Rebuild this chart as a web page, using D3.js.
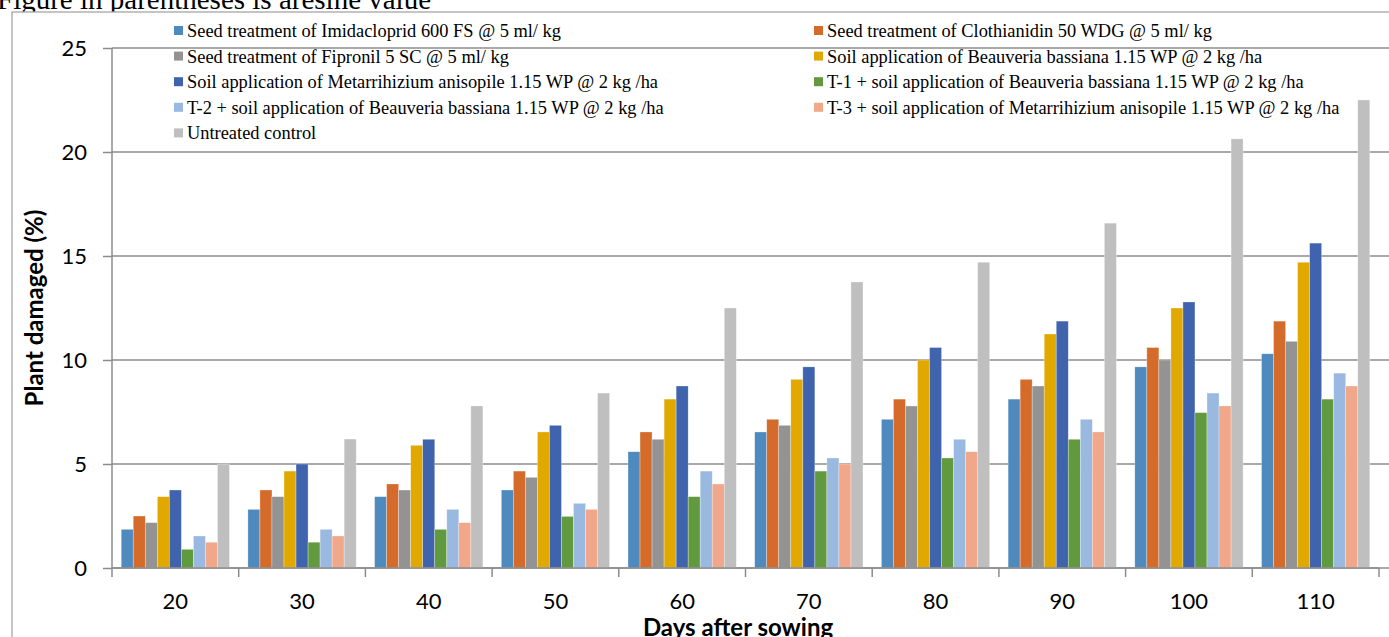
<!DOCTYPE html>
<html>
<head>
<meta charset="utf-8">
<script src="https://cdn.jsdelivr.net/npm/d3@7"></script>
<style>
  body { margin: 0; background: #fff; }
  svg { display: block; }
</style>
</head>
<body>
<div class="article"></div>
<script>
// Chart data
var days = ["20", "30", "40", "50", "60", "70", "80", "90", "100", "110"];

var seriesNames = [
  "Seed treatment of Imidacloprid 600 FS @ 5 ml/ kg",
  "Seed treatment of Clothianidin 50 WDG @ 5 ml/ kg",
  "Seed treatment of Fipronil 5 SC @ 5 ml/ kg",
  "Soil application of Beauveria bassiana 1.15 WP @ 2 kg /ha",
  "Soil application of Metarrihizium anisopile 1.15 WP @ 2 kg /ha",
  "T-1 + soil application of Beauveria bassiana 1.15 WP @ 2 kg /ha",
  "T-2 + soil application of Beauveria bassiana 1.15 WP @ 2 kg /ha",
  "T-3 + soil application of Metarrihizium anisopile 1.15 WP @ 2 kg /ha",
  "Untreated control"
];

var imidacloprid = [1.86, 2.82, 3.43, 3.75, 5.59, 6.54, 7.15, 8.12, 9.67, 10.30];
var clothianidin = [2.50, 3.75, 4.04, 4.66, 6.54, 7.15, 8.12, 9.07, 10.60, 11.87];
var fipronil     = [2.18, 3.43, 3.75, 4.36, 6.19, 6.86, 7.79, 8.75, 10.00, 10.90];
var beauveria    = [3.43, 4.66, 5.90, 6.54, 8.12, 9.07, 10.00, 11.25, 12.50, 14.70];
var metarrhizium = [3.75, 5.00, 6.19, 6.86, 8.75, 9.67, 10.60, 11.87, 12.79, 15.62];
var t1Beauveria  = [0.90, 1.24, 1.86, 2.48, 3.43, 4.66, 5.29, 6.19, 7.47, 8.12];
var t2Beauveria  = [1.54, 1.86, 2.82, 3.11, 4.66, 5.29, 6.19, 7.15, 8.41, 9.37];
var t3Metarr     = [1.24, 1.54, 2.18, 2.82, 4.04, 5.00, 5.59, 6.54, 7.79, 8.75];
var control      = [5.00, 6.20, 7.79, 8.41, 12.50, 13.75, 14.70, 16.58, 20.63, 22.50];

var seriesValues = [imidacloprid, clothianidin, fipronil, beauveria, metarrhizium,
  t1Beauveria, t2Beauveria, t3Metarr, control];

var yTicks = [0, 5, 10, 15, 20, 25];

var colors = ["#4f8abe", "#d46b2a", "#939393", "#e1a900", "#3f64ad",
  "#619a3e", "#9ab9e0", "#f0a78a", "#bfbfbf"];

// SVG area
var svgWidth = 1389;
var svgHeight = 637;

var plot = { left: 112, right: 1379, top: 48, bottom: 568 };

var svg = d3.select(".article")
  .append("svg")
  .attr("width", svgWidth)
  .attr("height", svgHeight);

// cut-off caption above the chart
svg.append("text")
  .attr("x", -3)
  .attr("y", 8.5)
  .attr("font-family", "Liberation Serif, serif")
  .attr("font-size", 29)
  .attr("fill", "#000")
  .text("Figure in parentheses is aresine value");

// chart frame
svg.append("rect")
  .attr("x", 12)
  .attr("y", 12)
  .attr("width", svgWidth + 20)
  .attr("height", svgHeight + 20)
  .attr("fill", "#fff")
  .attr("stroke", "#a6a6a6")
  .attr("stroke-width", 1.3);

// scales
var x0 = d3.scaleBand()
  .domain(days)
  .range([plot.left, plot.right])
  .padding(0);

var x1 = d3.scaleBand()
  .domain(d3.range(seriesNames.length))
  .range([0, x0.bandwidth()])
  .paddingInner(0)
  .paddingOuter(0.765);

var yScale = d3.scaleLinear()
  .domain([0, 25])
  .range([plot.bottom, plot.top]);

// left axis: ticks and labels
var leftAxis = d3.axisLeft(yScale)
  .tickValues(yTicks)
  .tickSize(9)
  .tickPadding(16);

var yAxisGroup = svg.append("g")
  .attr("transform", `translate(${plot.left}, 0)`)
  .call(leftAxis);

yAxisGroup.select(".domain").remove();
yAxisGroup.selectAll(".tick line")
  .attr("stroke", "#8c8c8c")
  .attr("stroke-width", 1.5);
yAxisGroup.selectAll(".tick text")
  .attr("font-family", "Lato, sans-serif")
  .attr("font-size", 22)
  .attr("fill", "#000")
  .attr("dy", "0.36em");

// horizontal gridlines run to the right edge
svg.append("g")
  .selectAll("line")
  .data(yTicks)
  .join("line")
  .attr("x1", plot.left)
  .attr("x2", svgWidth)
  .attr("y1", d => yScale(d))
  .attr("y2", d => yScale(d))
  .attr("stroke", "#8c8c8c")
  .attr("stroke-width", 1.5);

svg.append("line")
  .attr("x1", plot.left)
  .attr("x2", plot.left)
  .attr("y1", plot.top)
  .attr("y2", plot.bottom)
  .attr("stroke", "#8c8c8c")
  .attr("stroke-width", 1.5);

// bars
var groups = svg.append("g")
  .selectAll("g")
  .data(days)
  .join("g")
  .attr("transform", d => `translate(${x0(d)}, 0)`);

groups.selectAll("rect")
  .data((d, i) => seriesValues.map((vals, s) => ({ s: s, v: vals[i] })))
  .join("rect")
  .attr("x", d => x1(d.s))
  .attr("width", x1.bandwidth())
  .attr("y", d => yScale(d.v))
  .attr("height", d => yScale(0) - yScale(d.v))
  .attr("fill", d => colors[d.s])
  .attr("stroke", "#ffffff")
  .attr("stroke-opacity", 0.5)
  .attr("stroke-width", 0.6);

// bottom axis with ticks between categories
svg.append("line")
  .attr("x1", plot.left)
  .attr("x2", plot.right)
  .attr("y1", plot.bottom)
  .attr("y2", plot.bottom)
  .attr("stroke", "#8c8c8c")
  .attr("stroke-width", 1.5);

var boundaries = days.map(d => x0(d)).concat([plot.right]);
svg.append("g")
  .selectAll("line")
  .data(boundaries)
  .join("line")
  .attr("x1", d => d)
  .attr("x2", d => d)
  .attr("y1", plot.bottom)
  .attr("y2", plot.bottom + 9)
  .attr("stroke", "#8c8c8c")
  .attr("stroke-width", 1.5);

svg.append("g")
  .selectAll("text")
  .data(days)
  .join("text")
  .attr("x", d => x0(d) + x0.bandwidth() / 2)
  .attr("y", 609)
  .attr("text-anchor", "middle")
  .attr("font-family", "Lato, sans-serif")
  .attr("font-size", 22)
  .attr("fill", "#000")
  .text(d => d);

// axis titles
svg.append("text")
  .attr("x", 738)
  .attr("y", 636)
  .attr("text-anchor", "middle")
  .attr("font-family", "Lato, sans-serif")
  .attr("font-weight", "bold")
  .attr("font-size", 24)
  .attr("fill", "#000")
  .text("Days after sowing");

svg.append("text")
  .attr("transform", "translate(43, 308) rotate(-90)")
  .attr("text-anchor", "middle")
  .attr("font-family", "Lato, sans-serif")
  .attr("font-weight", "bold")
  .attr("font-size", 24)
  .attr("fill", "#000")
  .text("Plant damaged (%)");

// legend, two columns
var legend = svg.append("g")
  .selectAll("g")
  .data(seriesNames)
  .join("g")
  .attr("transform", (d, i) => `translate(${i % 2 === 0 ? 174 : 814}, ${31 + Math.floor(i / 2) * 25.6})`);

legend.append("rect")
  .attr("x", 0)
  .attr("y", -5)
  .attr("width", 9)
  .attr("height", 9)
  .attr("fill", (d, i) => colors[i]);

legend.append("text")
  .attr("x", 13)
  .attr("y", 6)
  .attr("font-family", "Liberation Serif, serif")
  .attr("font-size", 18.4)
  .attr("fill", "#000")
  .text(d => d);
</script>
</body>
</html>
